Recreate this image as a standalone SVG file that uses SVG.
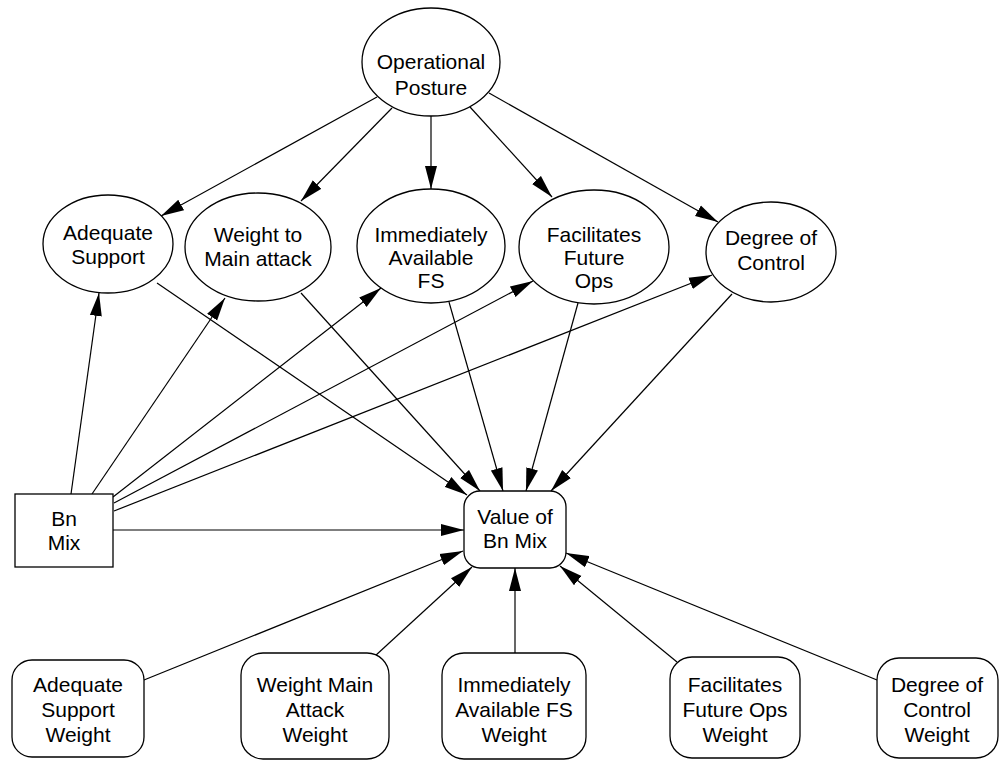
<svg xmlns="http://www.w3.org/2000/svg" width="1004" height="761" viewBox="0 0 1004 761">
<style>
.n{fill:#fff;stroke:#000;stroke-width:1.3}
.t{font-family:"Liberation Sans",Arial,Helvetica,sans-serif;font-size:21px;text-anchor:middle;fill:#000}
.e{stroke:#000;stroke-width:1.2;fill:none;marker-end:url(#ah)}
</style>
<defs>
<marker id="ah" markerUnits="userSpaceOnUse" markerWidth="25" markerHeight="13" refX="23" refY="6.5" orient="auto">
<path d="M0,0.5 L23,6.5 L0,12.5 z" fill="#000"/>
</marker>
</defs>
<rect width="1004" height="761" fill="#fff"/>
<g id="connectors">
<line class="e" x1="377" y1="97" x2="161" y2="216"/>
<line class="e" x1="392" y1="108" x2="301" y2="201"/>
<line class="e" x1="431" y1="116" x2="431" y2="189"/>
<line class="e" x1="470" y1="107" x2="552" y2="197"/>
<line class="e" x1="489" y1="93" x2="718" y2="222"/>
<line class="e" x1="71" y1="494" x2="99" y2="293"/>
<line class="e" x1="92" y1="494" x2="225" y2="298"/>
<line class="e" x1="113" y1="497" x2="381" y2="288"/>
<line class="e" x1="114" y1="503" x2="533" y2="281"/>
<line class="e" x1="114" y1="511" x2="712" y2="275"/>
<line class="e" x1="113" y1="530" x2="464" y2="530"/>
<line class="e" x1="157" y1="283" x2="467" y2="495"/>
<line class="e" x1="301" y1="293" x2="480" y2="491"/>
<line class="e" x1="449" y1="302" x2="503" y2="491"/>
<line class="e" x1="578" y1="303" x2="526" y2="491"/>
<line class="e" x1="732" y1="294" x2="551" y2="491"/>
<line class="e" x1="144" y1="680" x2="463" y2="551"/>
<line class="e" x1="375" y1="656" x2="472" y2="567"/>
<line class="e" x1="515" y1="653" x2="515" y2="568"/>
<line class="e" x1="677" y1="662" x2="560" y2="566"/>
<line class="e" x1="877" y1="680" x2="566" y2="553"/>
</g>
<g id="operational-posture">
<ellipse class="n" cx="431" cy="62" rx="69" ry="54"/>
<text class="t" x="431" y="69">Operational</text>
<text class="t" x="431" y="95">Posture</text>
</g>
<g id="adequate-support">
<ellipse class="n" cx="108" cy="244" rx="65" ry="49"/>
<text class="t" x="108" y="240">Adequate</text>
<text class="t" x="108" y="264">Support</text>
</g>
<g id="weight-to-main-attack">
<ellipse class="n" cx="258" cy="247" rx="73" ry="54"/>
<text class="t" x="258" y="242">Weight to</text>
<text class="t" x="258" y="266">Main attack</text>
</g>
<g id="immediately-available-fs">
<ellipse class="n" cx="431" cy="246" rx="74" ry="57"/>
<text class="t" x="431" y="242">Immediately</text>
<text class="t" x="431" y="265">Available</text>
<text class="t" x="431" y="288">FS</text>
</g>
<g id="facilitates-future-ops">
<ellipse class="n" cx="594" cy="247" rx="75" ry="57"/>
<text class="t" x="594" y="242">Facilitates</text>
<text class="t" x="594" y="265">Future</text>
<text class="t" x="594" y="288">Ops</text>
</g>
<g id="degree-of-control">
<ellipse class="n" cx="771" cy="252" rx="65" ry="50"/>
<text class="t" x="771" y="245">Degree of</text>
<text class="t" x="771" y="270">Control</text>
</g>
<g id="bn-mix">
<rect class="n" x="15" y="494" width="98" height="73"/>
<text class="t" x="64" y="526">Bn</text>
<text class="t" x="64" y="550">Mix</text>
</g>
<g id="value-of-bn-mix">
<rect class="n" x="464" y="491" width="102" height="77" rx="16"/>
<text class="t" x="515" y="524">Value of</text>
<text class="t" x="515" y="548">Bn Mix</text>
</g>
<g id="adequate-support-weight">
<rect class="n" x="12" y="660" width="132" height="97" rx="20"/>
<text class="t" x="78" y="692">Adequate</text>
<text class="t" x="78" y="717">Support</text>
<text class="t" x="78" y="742">Weight</text>
</g>
<g id="weight-main-attack-weight">
<rect class="n" x="241" y="653" width="148" height="106" rx="22"/>
<text class="t" x="315" y="692">Weight Main</text>
<text class="t" x="315" y="717">Attack</text>
<text class="t" x="315" y="742">Weight</text>
</g>
<g id="immediately-available-fs-weight">
<rect class="n" x="442" y="653" width="144" height="106" rx="22"/>
<text class="t" x="514" y="692">Immediately</text>
<text class="t" x="514" y="717">Available FS</text>
<text class="t" x="514" y="742">Weight</text>
</g>
<g id="facilitates-future-ops-weight">
<rect class="n" x="670" y="657" width="130" height="101" rx="22"/>
<text class="t" x="735" y="692">Facilitates</text>
<text class="t" x="735" y="717">Future Ops</text>
<text class="t" x="735" y="742">Weight</text>
</g>
<g id="degree-of-control-weight">
<rect class="n" x="877" y="658" width="121" height="100" rx="22"/>
<text class="t" x="937" y="692">Degree of</text>
<text class="t" x="937" y="717">Control</text>
<text class="t" x="937" y="742">Weight</text>
</g>
</svg>
